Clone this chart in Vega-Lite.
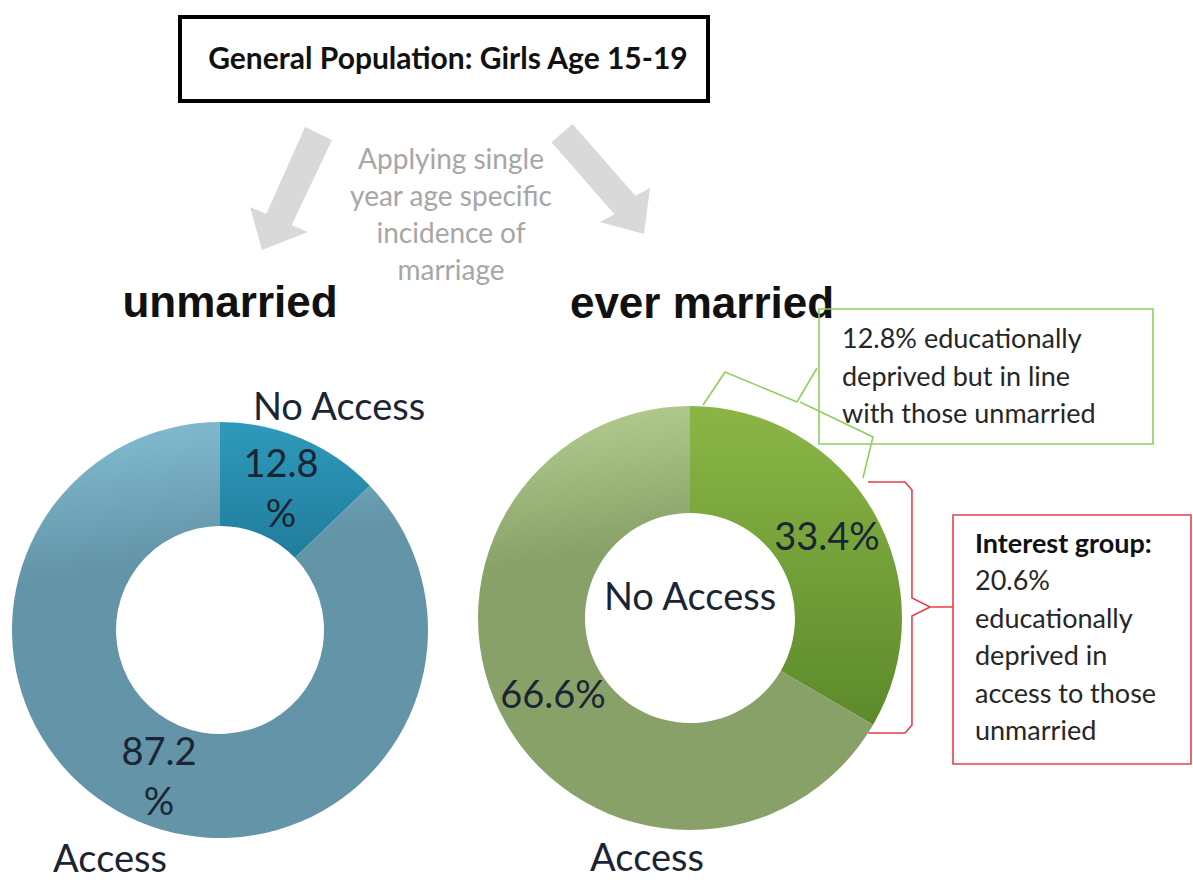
{
  "$schema": "https://vega.github.io/schema/vega-lite/v6.json",
  "width": 1193,
  "height": 880,
  "padding": 0,
  "autosize": "none",
  "background": "white",
  "config": {"view": {"stroke": null}},
  "data": {"values": [
    {"chart": "unmarried", "status": "No Access", "pct": 12.8, "label": "12.8 %"},
    {"chart": "unmarried", "status": "Access", "pct": 87.2, "label": "87.2 %"},
    {"chart": "ever married", "status": "No Access", "pct": 33.4, "label": "33.4%"},
    {"chart": "ever married", "status": "Access", "pct": 66.6, "label": "66.6%"}
  ]},
  "layer": [
    {
      "data": {"values": [{}]},
      "mark": {"type": "point", "shape": "M0.226,-0.992L0.661,-0.782L0.011,0.592L0.274,0.702L-0.468,0.992L-0.661,0.298L-0.398,0.408Z", "size": 15376, "filled": true, "color": "#d9d9d9", "opacity": 1, "strokeWidth": 0},
      "encoding": {
        "x": {"datum": 291, "type": "quantitative", "scale": {"domain": [0, 1193], "nice": false, "zero": false}, "axis": null},
        "y": {"datum": 188.5, "type": "quantitative", "scale": {"domain": [0, 880], "nice": false, "zero": false, "reverse": true}, "axis": null}
      }
    },
    {
      "data": {"values": [{}]},
      "mark": {"type": "point", "shape": "M-0.875,-0.675L-0.5,-1L0.625,0.282L0.884,0.143L0.777,0.964L-0.009,0.75L0.25,0.611Z", "size": 12544, "filled": true, "color": "#d9d9d9", "opacity": 1, "strokeWidth": 0},
      "encoding": {
        "x": {"datum": 600.5, "type": "quantitative"},
        "y": {"datum": 180, "type": "quantitative"}
      }
    },
    {
      "data": {"values": [{}]},
      "mark": {"type": "text", "text": ["Applying  single", "year age specific", "incidence  of", "marriage"], "font": "Lato", "fontSize": 28, "lineHeight": 37, "color": "#a6a6a6", "align": "center", "baseline": "alphabetic"},
      "encoding": {
        "x": {"datum": 451, "type": "quantitative"},
        "y": {"datum": 169, "type": "quantitative"}
      }
    },
    {
      "data": {"values": [{}]},
      "mark": {"type": "rect", "fill": "white", "stroke": "black", "strokeWidth": 4},
      "encoding": {
        "x": {"datum": 180, "type": "quantitative"},
        "x2": {"datum": 708},
        "y": {"datum": 17, "type": "quantitative"},
        "y2": {"datum": 101}
      }
    },
    {
      "data": {"values": [{}]},
      "mark": {"type": "text", "text": "General Population: Girls Age 15-19", "font": "Lato", "fontWeight": "bold", "fontSize": 30, "color": "#111111", "align": "center", "baseline": "alphabetic"},
      "encoding": {
        "x": {"datum": 448, "type": "quantitative"},
        "y": {"datum": 69, "type": "quantitative"}
      }
    },
    {
      "data": {"values": [{}]},
      "mark": {"type": "text", "text": "unmarried", "font": "Liberation Sans", "fontWeight": "bold", "fontSize": 44, "color": "#111111", "align": "center", "baseline": "alphabetic"},
      "encoding": {
        "x": {"datum": 230, "type": "quantitative"},
        "y": {"datum": 317, "type": "quantitative"}
      }
    },
    {
      "data": {"values": [{}]},
      "mark": {"type": "text", "text": "ever married", "font": "Liberation Sans", "fontWeight": "bold", "fontSize": 44, "color": "#111111", "align": "center", "baseline": "alphabetic"},
      "encoding": {
        "x": {"datum": 702, "type": "quantitative"},
        "y": {"datum": 318, "type": "quantitative"}
      }
    },
    {
      "transform": [{"filter": "datum.chart === 'unmarried'"}],
      "mark": {"type": "arc", "outerRadius": 208, "innerRadius": 104, "strokeWidth": 0},
      "encoding": {
        "x": {"datum": 220, "type": "quantitative"},
        "y": {"datum": 630, "type": "quantitative"},
        "theta": {"field": "pct", "type": "quantitative", "stack": true, "scale": {"domain": [0, 100], "range": [0, 6.283185307]}},
        "order": {"field": "status", "sort": "descending"},
        "color": {
          "condition": {"test": "datum.status === 'No Access'", "value": {"gradient": "linear", "x1": 0, "y1": 0, "x2": 0, "y2": 1, "stops": [{"offset": 0, "color": "#2e9abb"}, {"offset": 1, "color": "#217c9b"}]}},
          "value": {"gradient": "linear", "x1": 0.4, "y1": 0, "x2": 0.45, "y2": 0.32, "stops": [{"offset": 0, "color": "#80b9cf"}, {"offset": 1, "color": "#6394a8"}]}
        }
      }
    },
    {
      "transform": [{"filter": "datum.chart === 'ever married'"}],
      "mark": {"type": "arc", "outerRadius": 212, "innerRadius": 105, "strokeWidth": 0},
      "encoding": {
        "x": {"datum": 690, "type": "quantitative"},
        "y": {"datum": 618, "type": "quantitative"},
        "theta": {"field": "pct", "type": "quantitative", "stack": true},
        "order": {"field": "status", "sort": "descending"},
        "color": {
          "condition": {"test": "datum.status === 'No Access'", "value": {"gradient": "linear", "x1": 0, "y1": 0, "x2": 0, "y2": 1, "stops": [{"offset": 0, "color": "#8bb646"}, {"offset": 1, "color": "#5c8a2b"}]}},
          "value": {"gradient": "linear", "x1": 0.4, "y1": 0, "x2": 0.45, "y2": 0.32, "stops": [{"offset": 0, "color": "#b0ca8e"}, {"offset": 1, "color": "#88a168"}]}
        }
      }
    },
    {
      "transform": [{"filter": "datum.chart === 'unmarried'"}],
      "mark": {"type": "text", "radius": 156, "font": "Lato", "fontSize": 38, "lineBreak": " ", "lineHeight": 50, "dy": -20, "color": "#1a2533", "align": "center", "baseline": "middle"},
      "encoding": {
        "x": {"datum": 220, "type": "quantitative"},
        "y": {"datum": 630, "type": "quantitative"},
        "theta": {"field": "pct", "type": "quantitative", "stack": true},
        "order": {"field": "status", "sort": "descending"},
        "text": {"field": "label"}
      }
    },
    {
      "transform": [{"filter": "datum.chart === 'ever married'"}],
      "mark": {"type": "text", "radius": 158, "font": "Lato", "fontSize": 38, "color": "#1a2533", "align": "center", "baseline": "middle"},
      "encoding": {
        "x": {"datum": 690, "type": "quantitative"},
        "y": {"datum": 618, "type": "quantitative"},
        "theta": {"field": "pct", "type": "quantitative", "stack": true},
        "order": {"field": "status", "sort": "descending"},
        "text": {"field": "label"}
      }
    },
    {
      "data": {"values": [{}]},
      "mark": {"type": "text", "text": "No Access", "font": "Lato", "fontSize": 38, "color": "#1a2533", "align": "center", "baseline": "alphabetic"},
      "encoding": {
        "x": {"datum": 339, "type": "quantitative"},
        "y": {"datum": 420, "type": "quantitative"}
      }
    },
    {
      "data": {"values": [{}]},
      "mark": {"type": "text", "text": "Access", "font": "Lato", "fontSize": 38, "color": "#1a2533", "align": "center", "baseline": "alphabetic"},
      "encoding": {
        "x": {"datum": 110, "type": "quantitative"},
        "y": {"datum": 872, "type": "quantitative"}
      }
    },
    {
      "data": {"values": [{}]},
      "mark": {"type": "text", "text": "No Access", "font": "Lato", "fontSize": 38, "color": "#1a2533", "align": "center", "baseline": "alphabetic"},
      "encoding": {
        "x": {"datum": 690, "type": "quantitative"},
        "y": {"datum": 610, "type": "quantitative"}
      }
    },
    {
      "data": {"values": [{}]},
      "mark": {"type": "text", "text": "Access", "font": "Lato", "fontSize": 38, "color": "#1a2533", "align": "center", "baseline": "alphabetic"},
      "encoding": {
        "x": {"datum": 647, "type": "quantitative"},
        "y": {"datum": 871, "type": "quantitative"}
      }
    },
    {
      "data": {"values": [{}]},
      "mark": {"type": "point", "shape": "M-0.944,-0.2L-0.7,-0.567L0.1,-0.233L0.322,-0.611M0.133,-0.233L0.944,0.156L0.833,0.611", "size": 32400, "filled": false, "color": "#8fcf5c", "opacity": 1, "strokeWidth": 1.6},
      "encoding": {
        "x": {"datum": 788, "type": "quantitative"},
        "y": {"datum": 423, "type": "quantitative"}
      }
    },
    {
      "data": {"values": [{}]},
      "mark": {"type": "rect", "fill": "transparent", "stroke": "#8fcf5c", "strokeWidth": 1.6},
      "encoding": {
        "x": {"datum": 819, "type": "quantitative"},
        "x2": {"datum": 1153},
        "y": {"datum": 309, "type": "quantitative"},
        "y2": {"datum": 444}
      }
    },
    {
      "data": {"values": [{}]},
      "mark": {"type": "text", "text": ["12.8% educationally", "deprived  but in line", "with those unmarried"], "font": "Lato", "fontSize": 27, "lineHeight": 37.5, "color": "#262626", "align": "left", "baseline": "alphabetic"},
      "encoding": {
        "x": {"datum": 842, "type": "quantitative"},
        "y": {"datum": 348, "type": "quantitative"}
      }
    },
    {
      "data": {"values": [{}]},
      "mark": {"type": "point", "shape": "M-0.323,-0.969L-0.038,-0.969L0.015,-0.908L0.015,-0.077L0.154,-0.008L0.331,-0.008M0.154,-0.008L0.015,0.062L0.015,0.9L-0.038,0.962L-0.323,0.962", "size": 67600, "filled": false, "color": "#e8404a", "opacity": 1, "strokeWidth": 1.6},
      "encoding": {
        "x": {"datum": 910, "type": "quantitative"},
        "y": {"datum": 608, "type": "quantitative"}
      }
    },
    {
      "data": {"values": [{}]},
      "mark": {"type": "rect", "fill": "transparent", "stroke": "#e8404a", "strokeWidth": 1.6},
      "encoding": {
        "x": {"datum": 953, "type": "quantitative"},
        "x2": {"datum": 1191},
        "y": {"datum": 515, "type": "quantitative"},
        "y2": {"datum": 764}
      }
    },
    {
      "data": {"values": [{}]},
      "mark": {"type": "text", "text": "Interest group:", "font": "Lato", "fontWeight": "bold", "fontSize": 27, "color": "#111111", "align": "left", "baseline": "alphabetic"},
      "encoding": {
        "x": {"datum": 975, "type": "quantitative"},
        "y": {"datum": 553, "type": "quantitative"}
      }
    },
    {
      "data": {"values": [{}]},
      "mark": {"type": "text", "text": ["20.6%", "educationally", "deprived  in", "access to those", "unmarried"], "font": "Lato", "fontSize": 27, "lineHeight": 37.5, "color": "#262626", "align": "left", "baseline": "alphabetic"},
      "encoding": {
        "x": {"datum": 975, "type": "quantitative"},
        "y": {"datum": 590, "type": "quantitative"}
      }
    }
  ]
}
